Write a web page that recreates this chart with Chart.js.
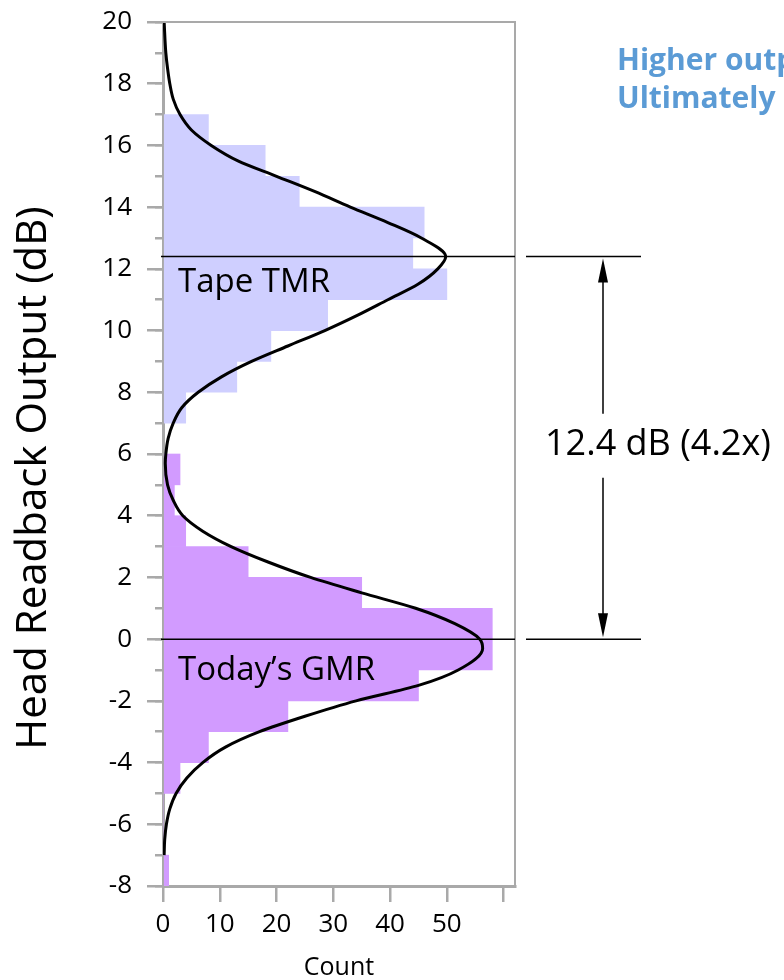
<!DOCTYPE html>
<html>
<head>
<meta charset="utf-8">
<script src="https://cdn.jsdelivr.net/npm/chart.js@4"></script>
<style>
  html, body { margin: 0; padding: 0; background: #fff; }
</style>
</head>
<body>
<canvas id="chart" width="784" height="980"></canvas>
<script>
'use strict';

// histogram bins are 1 dB wide, the bin value is its lower edge
var tmrBins = [7, 8, 9, 10, 11, 12, 13, 14, 15, 16];
var tmrCounts = [4, 13, 19, 29, 50, 44, 46, 24, 18, 8];
var gmrBins = [-8, -7, -6, -5, -4, -3, -2, -1, 0, 1, 2, 3, 4, 5];
var gmrCounts = [1, 0, 0, 3, 8, 22, 45, 58, 58, 35, 15, 4, 2, 3];

// smooth fit curve
var curveDb = [20, 19, 18.5, 18, 17.5, 17, 16.5, 16, 15.5, 15, 14.5, 14, 13.5, 13, 12.4, 12, 11.5, 11, 10.5, 10,
  9.5, 9, 8.5, 8, 7.5, 7, 6.5, 6, 5.7, 5, 4.5, 4, 3.5, 3, 2.5, 2, 1.5, 1, 0.5, 0,
  -0.3, -1, -1.5, -2, -2.5, -3, -3.5, -4, -4.5, -5, -5.5, -6, -6.5, -7];
var curveCount = [0.2, 0.5, 0.8, 1.2, 1.8, 3.0, 5.0, 8.5, 13.2, 20, 26.8, 33, 39.6, 45.5, 49.8, 48.4, 44.9, 39.6, 34.3, 28.5,
  22, 15.6, 10.3, 6.2, 3.3, 1.8, 0.9, 0.5, 0.4, 0.8, 1.8, 3.5, 7, 12, 18.5, 26, 35, 44.5, 51.4, 55.8,
  56.3, 52, 45, 34, 25, 17, 11, 7, 4.2, 2.3, 1.2, 0.6, 0.3, 0.2];

var yTickLabels = [-8, -6, -4, -2, 0, 2, 4, 6, 8, 10, 12, 14, 16, 18, 20];
var xTickLabels = [0, 10, 20, 30, 40, 50];

var yTitle = 'Head Readback Output (dB)';
var tmrPeak = 12.4;
var gmrPeak = 0;
var gapText = '12.4 dB (4.2x)';
var noteLines = ['Higher output signal', 'Ultimately higher density'];

var axisGray = '#a9a9a9';
var font = "'Open Sans', sans-serif";

function toBars(bins, counts) {
  var out = [];
  for (var i = 0; i < bins.length; i++) {
    out.push({ x: counts[i], y: bins[i] + 0.5 });
  }
  return out;
}

var curveData = [];
for (var i = 0; i < curveDb.length; i++) {
  curveData.push({ x: curveCount[i], y: curveDb[i] });
}

function arrowHead(ctx, x, y, dir) {
  ctx.beginPath();
  ctx.moveTo(x, y);
  ctx.lineTo(x - 5, y + dir * 24);
  ctx.lineTo(x + 5, y + dir * 24);
  ctx.closePath();
  ctx.fill();
}

var notes = {
  id: 'notes',
  afterDatasetsDraw: function (chart) {
    var ctx = chart.ctx;
    var a = chart.chartArea;
    var y = chart.scales.y;
    var yT = y.getPixelForValue(tmrPeak);
    var yG = y.getPixelForValue(gmrPeak);
    ctx.save();

    // frame on top and right
    ctx.strokeStyle = axisGray;
    ctx.lineWidth = 2;
    ctx.beginPath();
    ctx.moveTo(a.left, a.top);
    ctx.lineTo(a.right, a.top);
    ctx.lineTo(a.right, a.bottom);
    ctx.stroke();

    // peak lines
    ctx.strokeStyle = '#000';
    ctx.lineWidth = 1.5;
    [yT, yG].forEach(function (py) {
      ctx.beginPath();
      ctx.moveTo(a.left - 2, py);
      ctx.lineTo(a.right, py);
      ctx.moveTo(a.right + 11, py);
      ctx.lineTo(a.right + 126, py);
      ctx.stroke();
    });

    // arrow between the peaks
    var ax = a.right + 88;
    var mid = (yT + yG) / 2;
    ctx.fillStyle = '#000';
    ctx.beginPath();
    ctx.moveTo(ax, yT + 20);
    ctx.lineTo(ax, mid - 34);
    ctx.moveTo(ax, mid + 30);
    ctx.lineTo(ax, yG - 20);
    ctx.stroke();
    arrowHead(ctx, ax, yT + 2, 1);
    arrowHead(ctx, ax, yG - 2, -1);

    ctx.font = '36px ' + font;
    ctx.textAlign = 'left';
    ctx.textBaseline = 'middle';
    ctx.fillText(gapText, a.right + 30, mid - 3);

    ctx.font = '33px ' + font;
    ctx.textBaseline = 'alphabetic';
    ctx.fillText('Tape TMR', a.left + 15, yT + 35);
    ctx.fillText('Today\u2019s GMR', a.left + 15, yG + 41);

    ctx.font = 'bold 30px ' + font;
    ctx.fillStyle = '#5b9bd5';
    ctx.fillText(noteLines[0], a.right + 102, a.top + 48);
    ctx.fillText(noteLines[1], a.right + 102, a.top + 86);

    // y axis title, sits a little below the middle of the axis
    ctx.fillStyle = '#000';
    ctx.font = '42px ' + font;
    ctx.textAlign = 'center';
    ctx.textBaseline = 'middle';
    ctx.translate(34, (a.top + a.bottom) / 2 + 24);
    ctx.rotate(-Math.PI / 2);
    ctx.fillText(yTitle, 0, 0);
    ctx.restore();
  }
};

var ctx = document.getElementById('chart').getContext('2d');
new Chart(ctx, {
  type: 'bar',
  data: {
    datasets: [
      {
        type: 'line',
        label: 'Fit',
        data: curveData,
        xAxisID: 'x',
        yAxisID: 'y',
        borderColor: '#000',
        borderWidth: 3,
        pointRadius: 0,
        cubicInterpolationMode: 'monotone',
        fill: false,
        order: 0
      },
      {
        label: 'Tape TMR',
        data: toBars(tmrBins, tmrCounts),
        xAxisID: 'x',
        yAxisID: 'y',
        backgroundColor: '#cfcfff',
        order: 2
      },
      {
        label: 'Today\u2019s GMR',
        data: toBars(gmrBins, gmrCounts),
        xAxisID: 'x',
        yAxisID: 'y',
        backgroundColor: '#d29bff',
        order: 1
      }
    ]
  },
  options: {
    indexAxis: 'y',
    responsive: false,
    animation: false,
    layout: { padding: { top: 22, right: 269, left: 0, bottom: 0 } },
    plugins: { legend: { display: false }, tooltip: { enabled: false } },
    datasets: {
      bar: { grouped: false, barPercentage: 1, categoryPercentage: 1, borderWidth: 0 }
    },
    scales: {
      x: {
        type: 'linear',
        position: 'bottom',
        min: 0,
        max: 62,
        afterFit: function (s) { s.height = 94; },
        grid: { drawOnChartArea: false, tickLength: 16, color: axisGray, lineWidth: 2.5 },
        border: { color: axisGray, width: 3 },
        ticks: {
          stepSize: 10,
          includeBounds: false,
          maxRotation: 0,
          padding: 7,
          color: '#000',
          font: { family: font, size: 26 },
          callback: function (v) { return xTickLabels.indexOf(v) >= 0 ? String(v) : ''; }
        },
        title: {
          display: true,
          text: 'Count',
          color: '#000',
          font: { family: font, size: 25, lineHeight: 1 },
          padding: 0
        }
      },
      y: {
        type: 'linear',
        position: 'left',
        weight: 1,
        z: 1,
        offset: false,
        min: -8,
        max: 20,
        afterFit: function (s) { s.width = 163; s.paddingTop = 0; s.paddingBottom = 0; },
        grid: { offset: false, drawOnChartArea: false, tickLength: 16, color: axisGray, lineWidth: 2.5 },
        border: { color: axisGray, width: 3 },
        ticks: {
          stepSize: 2,
          padding: 15,
          color: '#000',
          font: { family: font, size: 26 },
          callback: function (v) { return yTickLabels.indexOf(v) >= 0 ? String(v) : ''; }
        }
      },
      yMinor: {
        type: 'linear',
        axis: 'y',
        position: 'left',
        weight: 0,
        z: 1,
        offset: false,
        min: -8,
        max: 20,
        afterFit: function (s) { s.width = 0; s.paddingTop = 0; s.paddingBottom = 0; },
        grid: { offset: false, drawOnChartArea: false, tickLength: 8, color: axisGray, lineWidth: 2.5 },
        border: { display: false },
        ticks: { stepSize: 1, display: false }
      }
    }
  },
  plugins: [notes]
});
</script>
</body>
</html>
